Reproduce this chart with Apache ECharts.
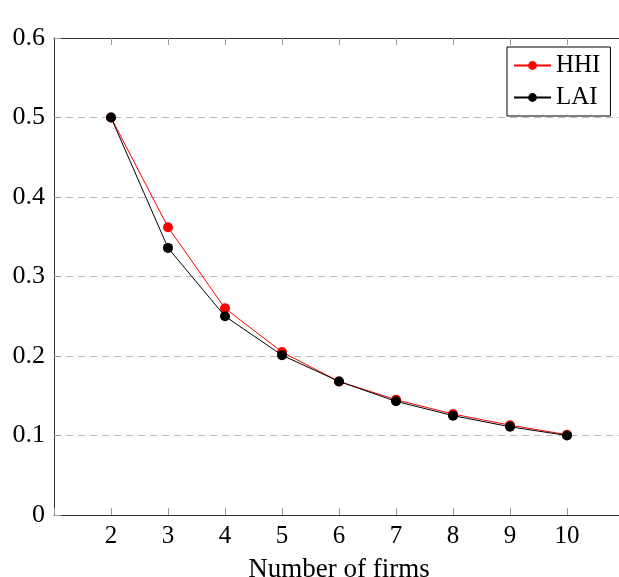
<!DOCTYPE html>
<html>
<head>
<meta charset="utf-8">
<script src="https://cdn.jsdelivr.net/npm/echarts@6/dist/echarts.min.js"></script>
<style>html,body{margin:0;padding:0;background:#fff;}#c{width:619px;height:577px;}</style>
</head>
<body>
<div id="c"></div>
<script>
const firms = [2, 3, 4, 5, 6, 7, 8, 9, 10];
const hhi = [0.5, 0.362, 0.26, 0.205, 0.168, 0.145, 0.127, 0.113, 0.101];
const lai = [0.5, 0.336, 0.25, 0.201, 0.168, 0.143, 0.125, 0.111, 0.100];
const yTicks = [0, 0.1, 0.2, 0.3, 0.4, 0.5, 0.6];

const FONT = 'Liberation Serif';
const chart = echarts.init(document.getElementById('c'));
const axisLineStyle = { color: '#333', width: 1 };
chart.setOption({
  animation: false,
  backgroundColor: '#fff',
  grid: { left: 54, right: -5, top: 38, bottom: 62, containLabel: false, outerBoundsMode: 'none' },
  legend: {
    left: 507, top: 47, orient: 'vertical',
    borderColor: '#000', borderWidth: 1, backgroundColor: '#fff',
    padding: [6, 10, 6, 6], itemGap: 7, itemWidth: 37, itemHeight: 11,
    textStyle: { fontFamily: FONT, fontSize: 25, color: '#000' },
    data: ['HHI', 'LAI']
  },
  xAxis: [{
    type: 'value', min: 1, max: 11, interval: 1,
    axisLine: { lineStyle: axisLineStyle },
    axisTick: { inside: true, length: 7, lineStyle: { color: '#999' } },
    axisLabel: {
      fontFamily: FONT, fontSize: 25, color: '#000', margin: 9,
      formatter: v => (firms.indexOf(v) >= 0 ? String(v) : '')
    },
    splitLine: { show: false },
    name: 'Number of firms', nameLocation: 'middle', nameGap: 41,
    nameTextStyle: { fontFamily: FONT, fontSize: 27, color: '#000' }
  }, {
    type: 'value', position: 'top', min: 1, max: 11, interval: 1,
    axisLine: { lineStyle: axisLineStyle },
    axisTick: { inside: true, length: 7, lineStyle: { color: '#999' },
      customValues: firms },
    axisLabel: { show: false },
    splitLine: { show: false }
  }],
  yAxis: {
    type: 'value', min: 0, max: 0.6, interval: 0.1,
    axisLine: { show: true, lineStyle: axisLineStyle },
    axisTick: { show: true, inside: true, length: 7, lineStyle: { color: '#999' } },
    axisLabel: {
      fontFamily: FONT, fontSize: 26, color: '#000', margin: 9,
      formatter: v => { const t = yTicks.find(k => Math.abs(k - v) < 1e-9); return t === undefined ? '' : String(t); }
    },
    splitLine: { show: true, lineStyle: { color: '#bbb', type: [7, 5], width: 1 } }
  },
  series: [{
    name: 'HHI', type: 'line', xAxisIndex: 0,
    data: firms.map((f, i) => [f, hhi[i]]),
    symbol: 'circle', symbolSize: 10,
    lineStyle: { color: '#ff0000', width: 1 },
    itemStyle: { color: '#ff0000' }, z: 2
  }, {
    name: 'LAI', type: 'line', xAxisIndex: 0,
    data: firms.map((f, i) => [f, lai[i]]),
    symbol: 'circle', symbolSize: 10,
    lineStyle: { color: '#000', width: 1 },
    itemStyle: { color: '#000' }, z: 3
  }]
});
</script>
</body>
</html>
